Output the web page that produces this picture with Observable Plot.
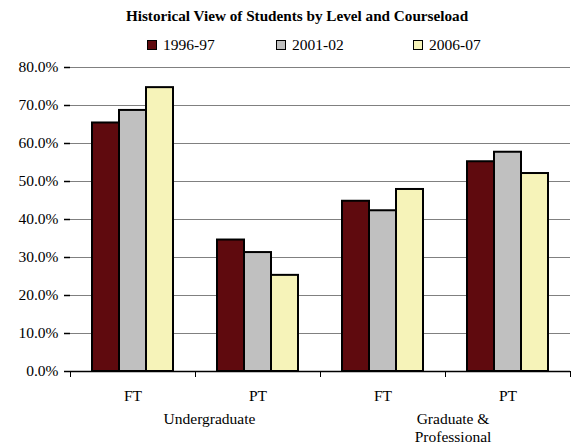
<!DOCTYPE html>
<html><head><meta charset="utf-8">
<script src="https://cdn.jsdelivr.net/npm/d3@7"></script>
<script src="https://cdn.jsdelivr.net/npm/@observablehq/plot@0.6"></script>
<style>
body{margin:0;background:#fff;font-family:"Liberation Serif","Times New Roman",serif;color:#000;}
#chart{width:573px;height:444px;position:relative;overflow:hidden;background:#fff}
.title{height:30px;position:relative}
.title span{position:absolute;left:297px;top:7.5px;transform:translateX(-50%);white-space:nowrap;font-weight:bold;font-size:15.2px;line-height:1}
.legend{height:30px;position:relative}
.legend .item{position:absolute;top:7px;font-size:15.5px;line-height:1;white-space:nowrap}
.legend .sw{position:absolute;top:3px;left:0;width:8px;height:8px;border:1px solid #000}
.legend .lab{position:absolute;left:16px;top:0}
#plot svg{display:block}
</style>
</head><body>
<div id="chart">
  <div class="title"><span id="title"></span></div>
  <div class="legend" id="legend"></div>
  <div id="plot"></div>
</div>
<script>
const titleText = "Historical View of Students by Level and Courseload";
const categories = ["UG-FT", "UG-PT", "GP-FT", "GP-PT"];
const categoryLabels = ["FT", "PT", "FT", "PT"];
const levels = ["Undergraduate", "Graduate &\nProfessional"];
const series = ["1996-97", "2001-02", "2006-07"];
const values1996 = [65.4, 34.6, 44.8, 55.2];
const values2001 = [68.7, 31.3, 42.3, 57.7];
const values2006 = [74.7, 25.3, 47.9, 52.1];
const yTicks = [0, 10, 20, 30, 40, 50, 60, 70, 80];
const colors = ["#5F0A0E", "#C0C0C0", "#F6F3B9"];
const legendLeft = [147, 276, 413];

const seriesValues = [values1996, values2001, values2006];
const rows = [];
categories.forEach((c, i) => series.forEach((s, j) => rows.push({category: c, series: s, value: seriesValues[j][i]})));

document.getElementById("title").textContent = titleText;
const leg = document.getElementById("legend");
series.forEach((s, j) => {
  const it = document.createElement("div");
  it.className = "item";
  it.style.left = legendLeft[j] + "px";
  it.innerHTML = `<div class="sw" style="background:${colors[j]}"></div><div class="lab"></div>`;
  it.querySelector(".lab").textContent = s;
  leg.appendChild(it);
});

const W = 573, H = 384, mT = 7, mB = 73, mL = 68, mR = 2;
const innerH = H - mT - mB;
const font = "Liberation Serif, Times New Roman, serif";
const fs = 15.5;

const chart = Plot.plot({
  width: W, height: H, marginTop: mT, marginBottom: mB, marginLeft: mL, marginRight: mR,
  style: {fontFamily: font, fontSize: fs + "px", color: "#000", background: "#fff", overflow: "visible"},
  fx: {domain: categories, padding: 0, label: null, axis: null},
  x: {domain: series, paddingInner: 0, paddingOuter: 0.745, axis: null},
  y: {domain: [0, 80], label: null, axis: null},
  color: {domain: series, range: colors},
  marks: [
    Plot.ruleY(yTicks, {stroke: "#808080", strokeWidth: 1}),
    Plot.barY(rows, {fx: "category", x: "series", y: "value", fill: "series", stroke: "#000", strokeWidth: 2}),
    Plot.ruleY([0], {stroke: "#000", strokeWidth: 1.5}),
    Plot.axisY({ticks: yTicks, tickFormat: d => d.toFixed(1) + "%", tickSize: 6, tickPadding: 6, line: true, stroke: "#000", strokeWidth: 1.5, label: null, fontSize: fs}),
    Plot.axisY({anchor: "right", ticks: [], tickSize: 0, line: true, stroke: "#000", strokeWidth: 1.5, label: null}),
    Plot.axisFx({anchor: "bottom", tickSize: 0, tickPadding: 18, tickFormat: d => categoryLabels[categories.indexOf(d)], label: null, fontSize: fs}),
    Plot.frame({anchor: "left", insetTop: innerH, insetBottom: -5, stroke: "#000", strokeWidth: 1}),
    Plot.frame({anchor: "right", insetTop: innerH, insetBottom: -5, stroke: "#000", strokeWidth: 1}),
    Plot.text([levels[0]], {fx: () => categories[1], text: d => d, frameAnchor: "bottom-left", lineAnchor: "top", textAnchor: "middle", dy: 39, dx: 14, fontSize: fs, lineHeight: 1.2}),
    Plot.text([levels[1]], {fx: () => categories[3], text: d => d, frameAnchor: "bottom-left", lineAnchor: "top", textAnchor: "middle", dy: 39, dx: 7.5, fontSize: fs, lineHeight: 1.2})
  ]
});
document.getElementById("plot").appendChild(chart);
</script>
</body></html>
